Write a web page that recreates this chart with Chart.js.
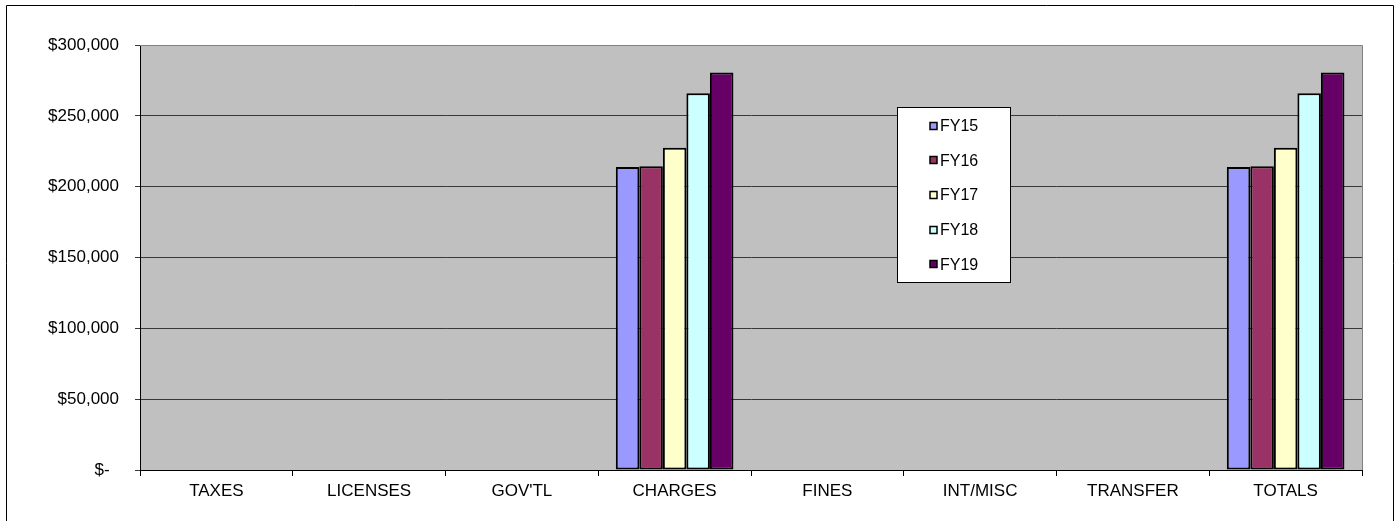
<!DOCTYPE html>
<html>
<head>
<meta charset="utf-8">
<title>Revenue by Source, FY15–FY19</title>
<script src="https://cdn.jsdelivr.net/npm/chart.js@4.4.1/dist/chart.umd.min.js"></script>
<style>
  html, body { margin: 0; padding: 0; background: #ffffff; overflow: hidden; }
  #wrap { position: relative; width: 1400px; height: 521px; }
  canvas { display: block; }
</style>
</head>
<body>
<div id="wrap"><canvas id="chart" width="1400" height="521"></canvas></div>
<script>
// Revenue categories along the x axis
const categories = ["TAXES", "LICENSES", "GOV'TL", "CHARGES", "FINES", "INT/MISC", "TRANSFER", "TOTALS"];

// Fiscal-year series (dollars per category)
const fy15 = [0, 0, 0, 213800, 0, 0, 0, 213800];
const fy16 = [0, 0, 0, 214500, 0, 0, 0, 214500];
const fy17 = [0, 0, 0, 227400, 0, 0, 0, 227400];
const fy18 = [0, 0, 0, 265900, 0, 0, 0, 265900];
const fy19 = [0, 0, 0, 280600, 0, 0, 0, 280600];

const seriesNames = ["FY15", "FY16", "FY17", "FY18", "FY19"];
const seriesValues = [fy15, fy16, fy17, fy18, fy19];
const seriesColors = ["#9999FF", "#993366", "#FFFFCC", "#CCFFFF", "#660066"];

// Value axis ticks
const yMin = 0;
const yMax = 300000;
const yStep = 50000;

const FONT = "'Liberation Sans', Arial, sans-serif";

function money(v) {
  if (v === 0) return "$-  ";
  return "$" + v.toLocaleString("en-US");
}

// Grey plot background plus the thin grey frame on top/right of the plot
const plotFrame = {
  id: "plotFrame",
  beforeDraw(chart) {
    const { ctx, chartArea: a } = chart;
    ctx.save();
    ctx.fillStyle = "#C0C0C0";
    ctx.fillRect(a.left, a.top, a.right - a.left, a.bottom - a.top);
    ctx.restore();
  },
  afterDatasetsDraw(chart) {
    const { ctx, chartArea: a } = chart;
    ctx.save();
    ctx.strokeStyle = "#808080";
    ctx.lineWidth = 1;
    ctx.beginPath();
    ctx.moveTo(a.left, Math.round(a.top) + 0.5);
    ctx.lineTo(Math.round(a.right) + 0.5, Math.round(a.top) + 0.5);
    ctx.lineTo(Math.round(a.right) + 0.5, a.bottom);
    ctx.stroke();
    ctx.restore();
  },
  afterDraw(chart) {
    // outer chart border
    const { ctx } = chart;
    ctx.save();
    ctx.strokeStyle = "#000000";
    ctx.lineWidth = 1;
    ctx.beginPath();
    ctx.moveTo(6.5, 530);
    ctx.lineTo(6.5, 5.5);
    ctx.lineTo(1393.5, 5.5);
    ctx.lineTo(1393.5, 530);
    ctx.stroke();
    ctx.restore();
  }
};

// Boxed legend placed inside the plot area
const boxLegend = {
  id: "boxLegend",
  afterDraw(chart) {
    const { ctx } = chart;
    const box = { x: 897, y: 107, w: 113, h: 175 };
    ctx.save();
    ctx.fillStyle = "#ffffff";
    ctx.fillRect(box.x, box.y, box.w, box.h);
    ctx.strokeStyle = "#000000";
    ctx.lineWidth = 1;
    ctx.strokeRect(box.x + 0.5, box.y + 0.5, box.w, box.h);
    ctx.font = "16px " + FONT;
    ctx.textBaseline = "middle";
    ctx.textAlign = "left";
    chart.data.datasets.forEach((ds, i) => {
      const cy = 125.5 + i * 34.7;
      ctx.fillStyle = ds.backgroundColor;
      ctx.fillRect(930, Math.round(cy) - 3.5, 7, 7);
      ctx.strokeStyle = "#000000";
      ctx.lineWidth = 1.5;
      ctx.strokeRect(930, Math.round(cy) - 3.5, 7, 7);
      ctx.fillStyle = "#000000";
      ctx.fillText(ds.label, 940, cy + 1);
    });
    ctx.restore();
  }
};

const datasets = seriesNames.map((name, i) => ({
  label: name,
  data: seriesValues[i],
  backgroundColor: seriesColors[i],
  borderColor: "#000000",
  borderWidth: 2,
  borderSkipped: false,
  categoryPercentage: 0.77,
  barPercentage: 1.0
}));

new Chart(document.getElementById("chart"), {
  type: "bar",
  data: { labels: categories, datasets },
  options: {
    responsive: false,
    animation: false,
    devicePixelRatio: 1,
    layout: { padding: { left: 0, right: 38, top: 45, bottom: 0 } },
    plugins: {
      legend: { display: false },
      tooltip: { enabled: false }
    },
    scales: {
      x: {
        offset: true,
        grid: {
          offset: true,
          drawOnChartArea: false,
          drawTicks: true,
          tickLength: 6,
          color: "#000000",
          lineWidth: 1
        },
        border: { display: true, color: "#000000", width: 1 },
        ticks: {
          color: "#000000",
          font: { family: FONT, size: 17 },
          padding: 5,
          maxRotation: 0,
          autoSkip: false
        },
        afterFit(scale) { scale.height = 51; }
      },
      y: {
        min: yMin,
        max: yMax,
        grid: {
          drawTicks: true,
          tickLength: 5,
          color: "#383838",
          lineWidth: 1
        },
        border: { display: true, color: "#000000", width: 1 },
        ticks: {
          stepSize: yStep,
          color: "#000000",
          font: { family: FONT, size: 17 },
          padding: 16,
          callback: (v) => money(v)
        },
        afterFit(scale) { scale.width = 140; }
      }
    }
  },
  plugins: [plotFrame, boxLegend]
});
</script>
</body>
</html>
